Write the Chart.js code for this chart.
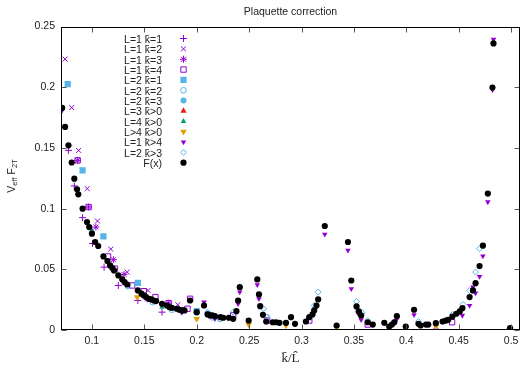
<!DOCTYPE html>
<html>
<head>
<meta charset="utf-8">
<script src="https://cdn.jsdelivr.net/npm/chart.js@4.4.1/dist/chart.umd.min.js"></script>
<style>
  html, body { margin: 0; padding: 0; background: #fff; }
  #wrap { width: 525px; height: 366px; }
</style>
</head>
<body>
<div id="wrap"><canvas id="plaq" width="525" height="366"></canvas></div>
<script>
// ticks
const xTicks = [0.1, 0.15, 0.2, 0.25, 0.3, 0.35, 0.4, 0.45, 0.5];
const yTicks = [0, 0.05, 0.1, 0.15, 0.2, 0.25];

// series [x, y]
const l1k1 = [[0.0776,0.148],[0.0832,0.1187],[0.0911,0.0926],[0.1006,0.0713],[0.1116,0.0518],[0.1252,0.0367],[0.1438,0.0243],[0.1669,0.0147]];
const l1k2 = [[0.0744,0.2232],[0.0807,0.1833],[0.0873,0.148],[0.0955,0.1165],[0.1053,0.0898],[0.118,0.0667],[0.1337,0.0477],[0.1536,0.0326],[0.182,0.0208],[0.4282,0.0029]];
const l1k3 = [[0.0864,0.1398],[0.0968,0.1013],[0.1038,0.0848],[0.1205,0.0579],[0.1306,0.0458],[0.1527,0.0257],[0.1732,0.0221]];
const l1k4 = [[0.0864,0.1398],[0.0968,0.1013],[0.1154,0.0606],[0.122,0.0505],[0.1384,0.0367],[0.1495,0.032],[0.1606,0.0271],[0.1732,0.0221],[0.1912,0.0175],[0.1937,0.0257],[0.2348,0.012],[0.2672,0.0078],[0.3074,0.0078],[0.3632,0.0045],[0.4437,0.0064]];
const l2k1 = [[0.0769,0.2026],[0.0911,0.1316],[0.111,0.0771],[0.1438,0.0389],[0.2,0.0155]];
const l2k2 = [[0.1344,0.0361],[0.158,0.023],[0.1763,0.0167],[0.2149,0.0104],[0.2222,0.0092],[0.2667,0.0106]];
const l2k3 = [[0.1858,0.0167],[0.2,0.0145],[0.2104,0.0135]];
const l3 = [];
const l4 = [[0.1,0.0821],[0.1669,0.0188]];
const lBig = [[0.1432,0.0271],[0.2,0.0092],[0.2496,0.0045],[0.2852,0.0037],[0.3335,0.002],[0.3995,0.0012],[0.4282,0.0029],[0.499,0.0005]];
const l1kBig = [[0.0716,0.181],[0.1858,0.0144],[0.207,0.023],[0.2174,0.0092],[0.2395,0.0216],[0.2411,0.0312],[0.2578,0.0373],[0.2594,0.0257],[0.3143,0.019],[0.3222,0.0788],[0.3443,0.0656],[0.3475,0.034],[0.3538,0.0139],[0.3569,0.0084],[0.3903,0.0078],[0.4074,0.0125],[0.4478,0.0138],[0.4535,0.012],[0.4604,0.0202],[0.4636,0.0353],[0.4661,0.0304],[0.4699,0.0441],[0.4731,0.0609],[0.4778,0.1055],[0.4822,0.198],[0.4832,0.2394]];
const l2kBig = [[0.2104,0.0147],[0.2348,0.0147],[0.2638,0.0175],[0.2667,0.0106],[0.3121,0.0202],[0.3159,0.0312],[0.3525,0.0235],[0.3579,0.0142],[0.3632,0.0078],[0.4116,0.007],[0.444,0.0127],[0.4542,0.021],[0.4604,0.0326],[0.4661,0.0477],[0.4699,0.067]];
const fx = [[0.0716,0.183],[0.0744,0.1673],[0.0776,0.1522],[0.0807,0.138],[0.0832,0.1247],[0.0858,0.1159],[0.087,0.1118],[0.0911,0.1],[0.0953,0.089],[0.0974,0.0848],[0.1,0.0794],[0.1031,0.0725],[0.106,0.0692],[0.111,0.0606],[0.1148,0.0568],[0.1173,0.0532],[0.1195,0.051],[0.1211,0.0491],[0.1252,0.045],[0.129,0.0417],[0.1312,0.0394],[0.1337,0.0375],[0.1438,0.0326],[0.1473,0.0299],[0.1495,0.0285],[0.1517,0.0271],[0.1543,0.0257],[0.1568,0.0252],[0.159,0.0243],[0.1612,0.0238],[0.1669,0.0216],[0.1716,0.0202],[0.1741,0.0188],[0.1763,0.0183],[0.1811,0.0175],[0.1833,0.0167],[0.1858,0.0161],[0.1884,0.0161],[0.1937,0.0243],[0.2,0.0147],[0.207,0.0202],[0.2104,0.0128],[0.2127,0.012],[0.2149,0.012],[0.2174,0.0114],[0.2227,0.0106],[0.2253,0.0101],[0.2307,0.0101],[0.2348,0.0092],[0.2379,0.0155],[0.2395,0.0243],[0.2411,0.0353],[0.2496,0.0078],[0.2578,0.0417],[0.2594,0.0293],[0.2606,0.0196],[0.2632,0.0125],[0.2663,0.007],[0.2726,0.0064],[0.2758,0.0064],[0.279,0.0059],[0.2852,0.0059],[0.29,0.0106],[0.2938,0.0051],[0.3042,0.007],[0.3074,0.0106],[0.3105,0.0128],[0.3121,0.0161],[0.3143,0.0202],[0.3159,0.0252],[0.3222,0.0857],[0.3335,0.0037],[0.3443,0.0725],[0.3475,0.0408],[0.3525,0.0194],[0.3547,0.0153],[0.3569,0.012],[0.3632,0.0064],[0.368,0.0045],[0.379,0.0059],[0.3837,0.0029],[0.3863,0.0045],[0.3885,0.0064],[0.391,0.0114],[0.3995,0.0029],[0.4074,0.0167],[0.4116,0.0051],[0.4137,0.0037],[0.4188,0.0045],[0.421,0.0045],[0.4282,0.0056],[0.4346,0.007],[0.4377,0.0078],[0.44,0.0084],[0.444,0.0111],[0.4478,0.0134],[0.451,0.0153],[0.4535,0.018],[0.4604,0.0271],[0.4636,0.0326],[0.4661,0.0386],[0.4699,0.0527],[0.4731,0.0695],[0.4778,0.1124],[0.4822,0.1998],[0.4832,0.2361],[0.499,0.0015]];

const PURPLE = '#9400d3', BLUE = '#56b4e9', BLACK = '#000000';
const KB = 'k\u0304';

// label, data, color, style, filled, radius, rotation
const seriesDefs = [
    ['L=1 ' + KB + '=1', l1k1, PURPLE, 'cross', false, 3.5, 0],
    ['L=1 ' + KB + '=2', l1k2, PURPLE, 'crossRot', false, 3.5, 0],
    ['L=1 ' + KB + '=3', l1k3, PURPLE, 'star', false, 3.5, 0],
    ['L=1 ' + KB + '=4', l1k4, PURPLE, 'rect', false, 3.8, 0],
    ['L=2 ' + KB + '=1', l2k1, BLUE, 'rect', true, 4.4, 0],
    ['L=2 ' + KB + '=2', l2k2, BLUE, 'circle', false, 2.8, 0],
    ['L=2 ' + KB + '=3', l2k3, BLUE, 'circle', true, 3, 0],
    ['L=3 ' + KB + '>0', l3, '#e51e10', 'triangle', true, 3.6, 0],
    ['L=4 ' + KB + '>0', l4, '#009e73', 'triangle', true, 3.2, 0],
    ['L>4 ' + KB + '>0', lBig, '#e69f00', 'triangle', true, 3.8, 180],
    ['L=1 ' + KB + '>4', l1kBig, PURPLE, 'triangle', true, 3.2, 180],
    ['L=2 ' + KB + '>3', l2kBig, BLUE, 'rectRot', false, 3, 0],
    ['F(x)', fx, BLACK, 'circle', true, 3.1, 0]
];

const datasets = seriesDefs.map((s, i) => ({
    label: s[0],
    data: s[1].map(p => ({ x: p[0], y: p[1] })),
    pointStyle: s[3],
    pointRadius: s[5],
    pointRotation: s[6],
    borderColor: s[2],
    backgroundColor: s[4] ? s[2] : 'rgba(0,0,0,0)',
    borderWidth: s[4] ? 0 : 1,
    showLine: false,
    order: seriesDefs.length - i
}));

const SANS = '"Liberation Sans", Arial, Helvetica, sans-serif';

// marco + ticks hacia dentro, leyenda, títulos de ejes
const gnuplotFrame = {
    id: 'gnuplotFrame',
    afterDraw(chart) {
        const ctx = chart.ctx;
        const a = chart.chartArea;
        const xs = chart.scales.x, ys = chart.scales.y;
        const L = Math.round(a.left) + 0.5, R = Math.round(a.right) - 0.5;
        const T = Math.round(a.top) + 0.5, B = Math.round(a.bottom) - 0.5;
        ctx.save();
        ctx.strokeStyle = '#555';
        ctx.lineWidth = 1;
        ctx.beginPath();
        xTicks.forEach(v => {
            const px = Math.round(xs.getPixelForValue(v)) + 0.5;
            ctx.moveTo(px, B); ctx.lineTo(px, B - 5);
            ctx.moveTo(px, T); ctx.lineTo(px, T + 5);
        });
        yTicks.forEach(v => {
            const py = Math.round(ys.getPixelForValue(v)) + 0.5;
            ctx.moveTo(L, py); ctx.lineTo(L + 5, py);
            ctx.moveTo(R, py); ctx.lineTo(R - 5, py);
        });
        ctx.stroke();
        ctx.strokeStyle = '#000';
        ctx.strokeRect(L, T, R - L, B - T);

        // leyenda
        ctx.font = '10.5px ' + SANS;
        ctx.textAlign = 'right';
        ctx.textBaseline = 'middle';
        chart.data.datasets.forEach((ds, i) => {
            const y = 38.5 + i * 10.35;
            ctx.fillStyle = '#222';
            ctx.fillText(ds.label, 162, y + 1.5);
            ctx.strokeStyle = ds.borderColor;
            ctx.fillStyle = ds.backgroundColor;
            ctx.lineWidth = 1;
            Chart.helpers.drawPoint(ctx, {
                pointStyle: ds.pointStyle,
                radius: ds.pointRadius,
                rotation: ds.pointRotation,
                borderWidth: ds.borderWidth
            }, 183.5, y);
        });

        // título eje x
        ctx.fillStyle = '#222';
        ctx.textAlign = 'center';
        ctx.font = '13px "Liberation Serif", "Times New Roman", serif';
        ctx.fillText('k\u0304/L\u0302', (a.left + a.right) / 2, 359);

        // título eje y con subíndices
        ctx.translate(12, 176);
        ctx.rotate(-Math.PI / 2);
        const big = '10.5px ' + SANS, small = '7.5px ' + SANS;
        const parts = [['V', big, 0], ['eff', small, 3], [' F', big, 0], ['2T', small, 3]];
        let total = 0;
        parts.forEach(p => { ctx.font = p[1]; total += ctx.measureText(p[0]).width; });
        let cx = -total / 2;
        ctx.textAlign = 'left';
        parts.forEach(p => {
            ctx.font = p[1];
            ctx.fillText(p[0], cx, p[2]);
            cx += ctx.measureText(p[0]).width;
        });
        ctx.restore();
    }
};

new Chart(document.getElementById('plaq'), {
    type: 'scatter',
    data: { datasets: datasets },
    options: {
        responsive: false,
        animation: false,
        layout: { padding: { left: 0, right: 1, top: 0, bottom: 0 } },
        plugins: {
            legend: { display: false },
            tooltip: { enabled: false },
            title: {
                display: true,
                text: 'Plaquette correction',
                fullSize: false,
                color: '#222',
                font: { family: SANS, size: 10.5, weight: 'normal', lineHeight: 1.2 },
                padding: { top: 6, bottom: 8 }
            }
        },
        scales: {
            x: {
                type: 'linear',
                min: 0.0705,
                max: 0.5085,
                grid: { display: false, drawTicks: false },
                border: { display: false },
                afterBuildTicks: (s) => { s.ticks = xTicks.map(v => ({ value: v })); },
                afterFit: (s) => { s.height = 36; },
                ticks: {
                    padding: 5,
                    color: '#222',
                    font: { family: SANS, size: 10.5 },
                    maxRotation: 0,
                    callback: (v) => String(v)
                }
            },
            y: {
                type: 'linear',
                min: 0,
                max: 0.25,
                grid: { display: false, drawTicks: false },
                border: { display: false },
                afterBuildTicks: (s) => { s.ticks = yTicks.map(v => ({ value: v })); },
                afterFit: (s) => { s.width = 61; },
                ticks: {
                    padding: 6,
                    color: '#222',
                    font: { family: SANS, size: 10.5 },
                    callback: (v) => String(v)
                }
            }
        }
    },
    plugins: [gnuplotFrame]
});
</script>
</body>
</html>
